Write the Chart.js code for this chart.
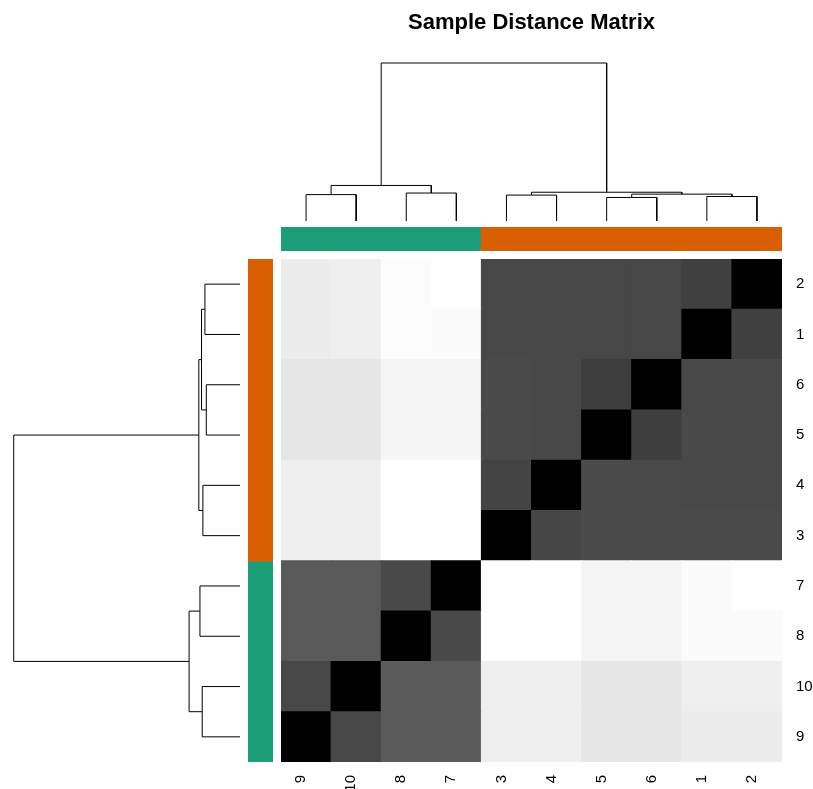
<!DOCTYPE html>
<html>
<head>
<meta charset="utf-8">
<title>Sample Distance Matrix</title>
<script src="https://cdn.jsdelivr.net/npm/chart.js@4/dist/chart.umd.min.js"></script>
<style>
  html, body { margin: 0; padding: 0; background: #ffffff; }
  #wrap { position: relative; width: 813px; height: 789px; overflow: hidden; background: #ffffff; }
  .box { position: absolute; }
</style>
</head>
<body>
<div id="wrap">
  <div class="box" style="left:281px; top:0px; width:501px; height:221px;"><canvas id="colTree"></canvas></div>
  <div class="box" style="left:281px; top:227px; width:501px; height:24px;"><canvas id="colSide"></canvas></div>
  <div class="box" style="left:0px; top:259px; width:241px; height:503px;"><canvas id="rowTree"></canvas></div>
  <div class="box" style="left:248px; top:259px; width:25px; height:503px;"><canvas id="rowSide"></canvas></div>
  <div class="box" style="left:281px; top:259px; width:532px; height:530px;"><canvas id="heat"></canvas></div>
</div>
<script>
// ---- samples and their groups ----
const sampleLabels = ['1', '2', '3', '4', '5', '6', '7', '8', '9', '10'];
const sampleGroups = ['B', 'B', 'B', 'B', 'B', 'B', 'A', 'A', 'A', 'A'];
const groupColors = { A: '#1B9E77', B: '#D95F02' };

// ---- pairwise distances: row sample vs samples 1..10 ----
const dist1  = [0, 25.1, 27.8, 27.8, 27.8, 27.8, 98.4, 98.8, 92.5, 93.7];
const dist2  = [25.1, 0, 27.8, 27.8, 27.8, 27.8, 100, 98.8, 92.5, 93.7];
const dist3  = [29.0, 29.0, 0, 27.5, 29.4, 29.4, 100, 100, 93.7, 93.7];
const dist4  = [28.2, 28.2, 26.7, 0, 29.0, 29.0, 100, 100, 93.7, 93.7];
const dist5  = [28.6, 28.6, 29.0, 28.2, 0, 24.3, 96.1, 96.1, 90.2, 90.2];
const dist6  = [28.6, 28.6, 29.0, 28.2, 24.3, 0, 96.1, 96.1, 90.2, 90.2];
const dist7  = [98.4, 100, 100, 100, 96.1, 96.1, 0, 28.6, 34.9, 34.9];
const dist8  = [98.4, 98.4, 100, 100, 96.1, 96.1, 28.6, 0, 34.9, 34.9];
const dist9  = [92.5, 92.5, 93.7, 93.7, 90.2, 90.2, 35.3, 35.3, 0, 27.8];
const dist10 = [93.7, 93.7, 93.7, 93.7, 90.2, 90.2, 35.3, 35.3, 27.8, 0];
const distRows = [dist1, dist2, dist3, dist4, dist5, dist6, dist7, dist8, dist9, dist10];

// ---- hierarchical clustering, hclust-style merge table ----
// negative = single sample, positive = earlier merge (1-based)
const mergeLeft   = [-5, -1, -3, -9, 1, -8, 3, 4, 8];
const mergeRight  = [-6, -2, -4, -10, 2, -7, 5, 6, 7];
const mergeHeight = [14.9, 15.5, 16.4, 16.7, 17.0, 17.7, 18.2, 22.5, 100];

const titleText = 'Sample Distance Matrix';
const fontFamily = "'Liberation Sans', Arial, Helvetica, sans-serif";

// ---- derived: leaf order and branch geometry ----
function leavesOf(k) {
  if (k < 0) return [-k];
  return leavesOf(mergeLeft[k - 1]).concat(leavesOf(mergeRight[k - 1]));
}
const order = leavesOf(mergeLeft.length);               // sample ids in display order
const orderLabels = order.map(id => sampleLabels[id - 1]);

function nodePos(k) {
  if (k < 0) return order.indexOf(-k);
  return (nodePos(mergeLeft[k - 1]) + nodePos(mergeRight[k - 1])) / 2;
}
function nodeHeight(k) { return k < 0 ? 0 : mergeHeight[k - 1]; }

const branches = mergeHeight.map((h, i) => {
  const L = mergeLeft[i], R = mergeRight[i];
  return [[nodePos(L), nodeHeight(L)], [nodePos(L), h], [nodePos(R), h], [nodePos(R), nodeHeight(R)]];
});

const maxDist = Math.max(...distRows.flat());
function grayFor(v) {
  const g = Math.round(v / maxDist * 255);
  return 'rgb(' + g + ',' + g + ',' + g + ')';
}

Chart.defaults.animation = false;
Chart.defaults.responsive = true;
Chart.defaults.maintainAspectRatio = false;
Chart.defaults.font.family = fontFamily;
Chart.defaults.color = '#000000';
Chart.defaults.plugins.legend.display = false;
Chart.defaults.plugins.tooltip.enabled = false;

function lineSet(points) {
  return {
    data: points,
    showLine: true,
    borderColor: '#000000',
    borderWidth: 1,
    pointRadius: 0,
    fill: false,
    tension: 0,
    clip: false
  };
}

// ---- column dendrogram with the title above it ----
new Chart(document.getElementById('colTree'), {
  type: 'scatter',
  data: { datasets: branches.map(b => lineSet(b.map(([p, h]) => ({ x: p, y: h })))) },
  options: {
    layout: { padding: 0 },
    plugins: {
      title: {
        display: true,
        text: titleText,
        color: '#000000',
        font: { family: fontFamily, size: 22, weight: 'bold' },
        padding: { top: 9.3, bottom: 27.3 }
      }
    },
    scales: {
      x: { type: 'linear', min: -0.5, max: 9.5, display: false },
      y: { type: 'linear', min: 0, max: 100, display: false }
    }
  }
});

// ---- row dendrogram ----
new Chart(document.getElementById('rowTree'), {
  type: 'scatter',
  data: { datasets: branches.map(b => lineSet(b.map(([p, h]) => ({ x: h, y: p })))) },
  options: {
    layout: { padding: { left: 13.7, right: 1, top: 0, bottom: 0 } },
    scales: {
      x: { type: 'linear', min: 0, max: 100, reverse: true, display: false },
      y: { type: 'linear', min: -0.5, max: 9.5, display: false }
    }
  }
});

// ---- group colour bars ----
const sideColors = order.map(id => groupColors[sampleGroups[id - 1]]);

new Chart(document.getElementById('colSide'), {
  type: 'bar',
  data: {
    labels: orderLabels,
    datasets: [{
      data: order.map(() => [0, 1]),
      backgroundColor: sideColors,
      borderWidth: 0,
      inflateAmount: 0.6,
      barPercentage: 1,
      categoryPercentage: 1
    }]
  },
  options: {
    layout: { padding: 0 },
    scales: {
      x: { display: false },
      y: { type: 'linear', min: 0, max: 1, display: false }
    }
  }
});

new Chart(document.getElementById('rowSide'), {
  type: 'bar',
  data: {
    labels: orderLabels,
    datasets: [{
      data: order.map(() => [0, 1]),
      backgroundColor: sideColors,
      borderWidth: 0,
      inflateAmount: 0.6,
      barPercentage: 1,
      categoryPercentage: 1
    }]
  },
  options: {
    indexAxis: 'y',
    layout: { padding: 0 },
    scales: {
      y: { display: false, reverse: true },
      x: { type: 'linear', min: 0, max: 1, display: false }
    }
  }
});

// ---- distance heatmap: one floating-bar row per sample ----
const heatSets = order.map((rowId, r) => ({
  data: order.map(() => [r - 0.5, r + 0.5]),
  backgroundColor: order.map(colId => grayFor(distRows[rowId - 1][colId - 1])),
  borderWidth: 0,
  inflateAmount: 0.5,
  grouped: false,
  barPercentage: 1,
  categoryPercentage: 1
}));

new Chart(document.getElementById('heat'), {
  type: 'bar',
  data: { labels: orderLabels, datasets: heatSets },
  options: {
    layout: { padding: 0 },
    scales: {
      x: {
        type: 'category',
        position: 'bottom',
        grid: { display: false, drawTicks: false },
        border: { display: false },
        ticks: {
          autoSkip: false,
          minRotation: 90,
          maxRotation: 90,
          padding: 13,
          labelOffset: -5,
          color: '#000000',
          font: { family: fontFamily, size: 15 }
        },
        afterFit: s => { s.height = 27; s.paddingLeft = 0; s.paddingRight = 0; }
      },
      y: {
        type: 'linear',
        position: 'right',
        min: -0.5,
        max: 9.5,
        grid: { display: false, drawTicks: false },
        border: { display: false },
        afterBuildTicks: s => { s.ticks = order.map((_, i) => ({ value: i })); },
        ticks: {
          padding: 14,
          color: '#000000',
          font: { family: fontFamily, size: 15 },
          callback: v => orderLabels[Math.round(v)]
        },
        afterFit: s => { s.width = 31; s.paddingTop = 0; s.paddingBottom = 0; }
      }
    }
  }
});
</script>
</body>
</html>
